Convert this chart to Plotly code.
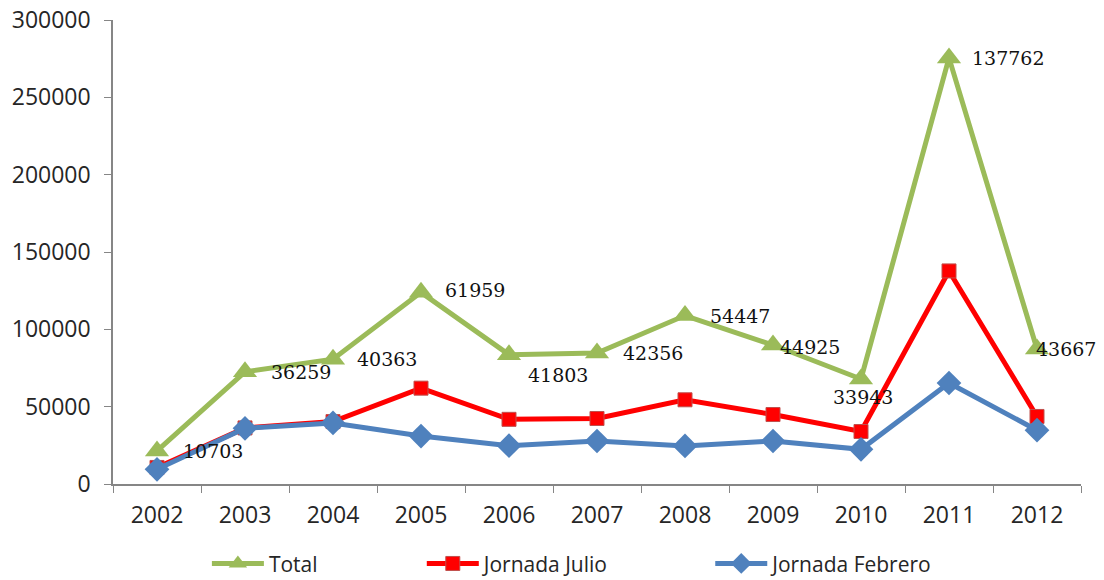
import plotly.graph_objects as go

years = ["2002", "2003", "2004", "2005", "2006", "2007", "2008", "2009", "2010", "2011", "2012"]
total = [21400, 72500, 80700, 123900, 83600, 84700, 108900, 89850, 67900, 275500, 87300]
julio = [10703, 36259, 40363, 61959, 41803, 42356, 54447, 44925, 33943, 137762, 43667]
febrero = [9500, 36000, 39500, 31000, 24800, 27800, 24600, 27800, 22400, 65300, 34800]
y_ticks = [0, 50000, 100000, 150000, 200000, 250000, 300000]

# label offsets (px) relative to the Total points
label_dx = [24, 24, 22, 22, 17, 24, 23, 5, -30, 21, -3]
label_dy = [0, 0, 0, 2, -20, 0, 0, -2, -18, 0, 0]

GREEN = "#9BBB59"
RED = "#FF0000"
BLUE = "#4F81BD"
AXIS = "#868686"
TXT = "#262626"
FONT = "Open Sans"

fig = go.Figure()
fig.add_trace(go.Scatter(
    x=years, y=total, name="Total", mode="lines+markers",
    line=dict(color=GREEN, width=5),
    marker=dict(symbol="triangle-up", size=21, color=GREEN),
    legend="legend",
))
fig.add_trace(go.Scatter(
    x=years, y=julio, name="Jornada Julio", mode="lines+markers",
    line=dict(color=RED, width=5),
    marker=dict(symbol="square", size=14, color=RED, line=dict(color="#C0504D", width=1)),
    legend="legend2",
))
fig.add_trace(go.Scatter(
    x=years, y=febrero, name="Jornada Febrero", mode="lines+markers",
    line=dict(color=BLUE, width=5),
    marker=dict(symbol="diamond", size=19, color=BLUE),
    legend="legend3",
))

for i, yr in enumerate(years):
    fig.add_annotation(
        x=i, y=total[i], xref="x", yref="y", text=str(julio[i]), showarrow=False,
        xanchor="left", yanchor="middle",
        xshift=label_dx[i], yshift=label_dy[i],
        font=dict(family="DejaVu Serif", size=19, color="#111111"),
    )

leg_common = dict(
    orientation="h", xanchor="left", y=-0.172, yanchor="middle",
    font=dict(family=FONT, size=21, color=TXT), itemclick=False,
    bgcolor="rgba(0,0,0,0)", itemwidth=52,
)
fig.update_layout(
    width=1096, height=572,
    margin=dict(l=105, r=23, t=12, b=96, autoexpand=False),
    paper_bgcolor="white", plot_bgcolor="white",
    font=dict(family=FONT, size=23, color=TXT),
    showlegend=True,
    legend=dict(x=0.097, **leg_common),
    legend2=dict(x=0.319, **leg_common),
    legend3=dict(x=0.617, **leg_common),
)
fig.update_xaxes(
    type="category", range=[-0.5, 10.5],
    showline=True, linecolor=AXIS, linewidth=1.5,
    ticks="outside", tickson="boundaries", ticklen=7, tickcolor=AXIS,
    showgrid=False, zeroline=False, ticklabelstandoff=10,
    tickfont=dict(family=FONT, size=23, color=TXT),
)
fig.update_yaxes(
    range=[0, 300000], tickvals=y_ticks, ticktext=[str(v) for v in y_ticks],
    showline=True, linecolor=AXIS, linewidth=1.5,
    ticks="outside", ticklen=7, tickcolor=AXIS,
    showgrid=False, zeroline=False, ticklabelstandoff=9,
    ticklabeloverflow="allow",
    tickfont=dict(family=FONT, size=23, color=TXT),
)

fig.write_html("out.html")
